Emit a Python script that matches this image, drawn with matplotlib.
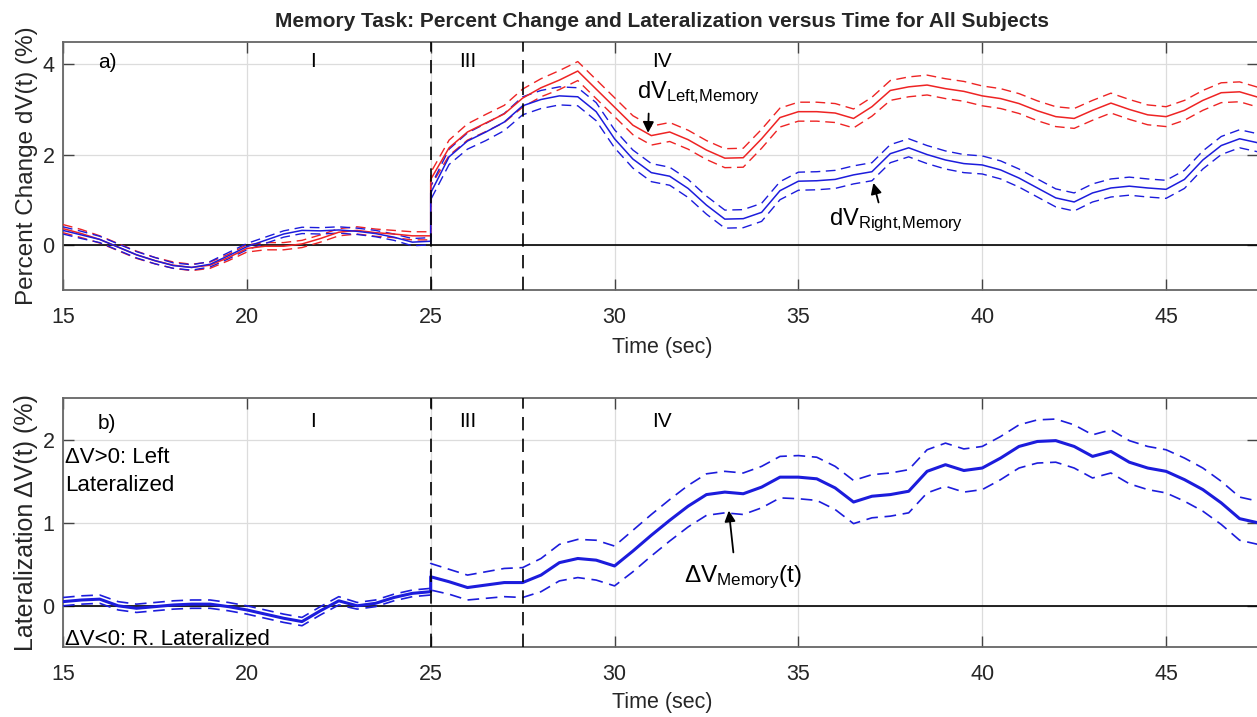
import numpy as np
import matplotlib
matplotlib.use('Agg')
import matplotlib.pyplot as plt

plt.rcParams['font.family'] = ['Liberation Sans', 'DejaVu Sans']
plt.rcParams['mathtext.fontset'] = 'custom'
plt.rcParams['mathtext.rm'] = 'Liberation Sans'
plt.rcParams['mathtext.it'] = 'Liberation Sans:italic'

# time axis (s); 25.0 appears twice because the traces jump at task onset
t_pre = [15, 15.5, 16, 16.5, 17, 17.5, 18, 18.5, 19, 19.5, 20,
         20.5, 21, 21.5, 22, 22.5, 23, 23.5, 24, 24.5, 25]
t_post = [25, 25.5, 26, 26.5, 27, 27.5, 28, 28.5, 29, 29.5, 30,
          30.5, 31, 31.5, 32, 32.5, 33, 33.5, 34, 34.5, 35,
          35.5, 36, 36.5, 37, 37.5, 38, 38.5, 39, 39.5, 40,
          40.5, 41, 41.5, 42, 42.5, 43, 43.5, 44, 44.5, 45,
          45.5, 46, 46.5, 47, 47.5]

# panel a) percent change, left hemisphere (red)
left_pre = [0.36, 0.25, 0.12, -0.05, -0.22, -0.35, -0.45, -0.50, -0.45, -0.28, -0.08,
            -0.03, -0.03, 0.02, 0.14, 0.28, 0.32, 0.27, 0.24, 0.20, 0.20]
left_post = [1.45, 2.15, 2.50, 2.70, 2.90, 3.25, 3.48, 3.65, 3.85, 3.45, 3.05,
             2.65, 2.42, 2.50, 2.33, 2.10, 1.92, 1.93, 2.35, 2.82, 2.95,
             2.95, 2.92, 2.80, 3.06, 3.42, 3.50, 3.54, 3.46, 3.40, 3.30,
             3.24, 3.13, 2.97, 2.84, 2.80, 2.98, 3.14, 3.00, 2.88, 2.84,
             2.98, 3.20, 3.37, 3.39, 3.27]
left_se_pre = [0.09, 0.09, 0.08, 0.08, 0.08, 0.07, 0.07, 0.07, 0.07, 0.07, 0.08,
               0.08, 0.08, 0.08, 0.08, 0.08, 0.08, 0.08, 0.08, 0.09, 0.09]
left_se_post = [0.15, 0.17, 0.18, 0.19, 0.19, 0.20, 0.20, 0.21, 0.21, 0.21, 0.21,
                0.21, 0.21, 0.21, 0.21, 0.21, 0.21, 0.21, 0.21, 0.21, 0.21,
                0.21, 0.21, 0.21, 0.21, 0.22, 0.22, 0.22, 0.22, 0.22, 0.22,
                0.22, 0.22, 0.22, 0.22, 0.22, 0.22, 0.22, 0.22, 0.22, 0.22,
                0.22, 0.22, 0.22, 0.22, 0.22]

# panel a) percent change, right hemisphere (blue)
right_pre = [0.32, 0.22, 0.12, -0.05, -0.22, -0.35, -0.46, -0.50, -0.43, -0.24, -0.04,
             0.10, 0.24, 0.32, 0.31, 0.33, 0.30, 0.25, 0.17, 0.06, 0.08]
right_post = [1.15, 1.95, 2.30, 2.50, 2.72, 3.08, 3.22, 3.30, 3.28, 2.95, 2.35,
              1.90, 1.60, 1.52, 1.25, 0.88, 0.57, 0.58, 0.72, 1.20, 1.41,
              1.42, 1.45, 1.55, 1.62, 2.02, 2.15, 2.00, 1.88, 1.80, 1.77,
              1.66, 1.48, 1.26, 1.04, 0.95, 1.15, 1.26, 1.30, 1.26, 1.23,
              1.45, 1.88, 2.20, 2.35, 2.26]
right_se_pre = [0.08, 0.08, 0.07, 0.07, 0.07, 0.07, 0.06, 0.06, 0.06, 0.07, 0.07,
                0.07, 0.07, 0.07, 0.07, 0.07, 0.07, 0.07, 0.07, 0.08, 0.08]
right_se_post = [0.15, 0.17, 0.18, 0.19, 0.19, 0.20, 0.20, 0.20, 0.20, 0.20, 0.20,
                 0.20, 0.20, 0.20, 0.20, 0.20, 0.20, 0.20, 0.20, 0.20, 0.20,
                 0.20, 0.20, 0.20, 0.20, 0.20, 0.20, 0.20, 0.20, 0.20, 0.20,
                 0.20, 0.20, 0.20, 0.20, 0.20, 0.20, 0.20, 0.20, 0.20, 0.20,
                 0.20, 0.20, 0.20, 0.20, 0.20]

# panel b) lateralization index
lat_pre = [0.05, 0.07, 0.08, 0.00, -0.03, -0.01, 0.01, 0.02, 0.02, -0.01, -0.05,
           -0.10, -0.15, -0.19, -0.06, 0.06, 0.00, 0.03, 0.10, 0.15, 0.17]
lat_post = [0.35, 0.29, 0.22, 0.25, 0.28, 0.28, 0.37, 0.52, 0.57, 0.55, 0.48,
            0.66, 0.85, 1.03, 1.20, 1.34, 1.37, 1.35, 1.43, 1.55, 1.55,
            1.53, 1.42, 1.25, 1.32, 1.34, 1.38, 1.62, 1.70, 1.63, 1.66,
            1.78, 1.92, 1.98, 1.99, 1.92, 1.80, 1.86, 1.73, 1.66, 1.62,
            1.52, 1.40, 1.24, 1.05, 1.00]
lat_se_pre = [0.05, 0.05, 0.05, 0.05, 0.05, 0.05, 0.05, 0.05, 0.05, 0.05, 0.05,
              0.05, 0.05, 0.05, 0.05, 0.05, 0.04, 0.04, 0.04, 0.04, 0.04]
lat_se_post = [0.16, 0.15, 0.15, 0.16, 0.17, 0.18, 0.20, 0.22, 0.23, 0.24, 0.24,
               0.25, 0.25, 0.25, 0.25, 0.25, 0.25, 0.25, 0.25, 0.25, 0.26,
               0.26, 0.26, 0.26, 0.26, 0.26, 0.26, 0.26, 0.26, 0.26, 0.26,
               0.26, 0.26, 0.26, 0.26, 0.26, 0.26, 0.26, 0.26, 0.26, 0.26,
               0.26, 0.26, 0.26, 0.26, 0.26]

phase_lines = [25, 27.5]
phase_names = ['I', 'III', 'IV']
phase_pos = [21.8, 26.0, 31.3]

RED = '#ee2424'
BLUE = '#1c1cdc'
DASH = (0, (7, 4))
INK = '#262626'


def trace(ax, mean_pre, mean_post, se_pre, se_post, color, lw, dlw):
    t = np.array(t_pre + t_post)
    m = np.array(mean_pre + mean_post)
    s = np.array(se_pre + se_post)
    ax.plot(t, m, color=color, lw=lw, zorder=4)
    ax.plot(t, m + s, color=color, lw=dlw, ls=DASH, zorder=3)
    ax.plot(t, m - s, color=color, lw=dlw, ls=DASH, zorder=3)


def style(ax, yticks, ylim):
    ax.set_xlim(15, 47.5)
    ax.set_ylim(*ylim)
    ax.set_xticks([15, 20, 25, 30, 35, 40, 45])
    ax.set_yticks(yticks)
    ax.grid(True, color='#dcdcdc', lw=0.9)
    ax.set_axisbelow(True)
    ax.tick_params(direction='in', length=8, width=1.0, color='#444444',
                   top=True, right=True, labelsize=15.5, labelcolor=INK)
    ax.tick_params(axis='x', pad=12)
    ax.tick_params(axis='y', pad=6)
    for sp in ax.spines.values():
        sp.set_color('#666666')
        sp.set_linewidth(1.3)
    ax.axhline(0, color='black', lw=1.2, zorder=2)
    for x in phase_lines:
        ax.axvline(x, color='black', lw=1.2, ls=(0, (8, 5)), zorder=5)
    ax.set_xlabel('Time (sec)', fontsize=15.5, color=INK)


fig = plt.figure(figsize=(12.57, 7.17), dpi=100)
ax1 = fig.add_axes([63 / 1257, 1 - 290 / 717, 1195 / 1257, 248.3 / 717])
ax2 = fig.add_axes([63 / 1257, 1 - 647.3 / 717, 1195 / 1257, 249 / 717])

# panel a)
trace(ax1, left_pre, left_post, left_se_pre, left_se_post, RED, 1.1, 1.0)
trace(ax1, right_pre, right_post, right_se_pre, right_se_post, BLUE, 1.1, 1.0)
style(ax1, [0, 2, 4], (-1, 4.5))
ax1.xaxis.set_label_coords(0.5017, -0.19)
ax1.set_ylabel('Percent Change dV(t) (%)', fontsize=17.5, color=INK)
ax1.yaxis.set_label_coords(-0.021, 0.5)
ax1.text(15.95, 4.04, 'a)', fontsize=15, va='center', ha='left')
for name, x in zip(phase_names, phase_pos):
    ax1.text(x, 4.07, name, fontsize=15, va='center', ha='center')
ax1.text(30.6, 3.26, r'dV$_{\mathrm{Left{,}Memory}}$', fontsize=17, va='baseline')
ax1.annotate('', xy=(30.91, 2.42), xytext=(30.93, 2.97),
             arrowprops=dict(arrowstyle='-|>', color='black', lw=1.3, mutation_scale=16))
ax1.text(35.82, 0.44, r'dV$_{\mathrm{Right{,}Memory}}$', fontsize=17, va='baseline')
ax1.annotate('', xy=(37.02, 1.43), xytext=(37.2, 0.88),
             arrowprops=dict(arrowstyle='-|>', color='black', lw=1.3, mutation_scale=16))

# panel b)
trace(ax2, lat_pre, lat_post, lat_se_pre, lat_se_post, BLUE, 2.2, 1.2)
style(ax2, [0, 1, 2], (-0.5, 2.5))
ax2.xaxis.set_label_coords(0.5017, -0.178)
ax2.set_ylabel('Lateralization \u0394V(t) (%)', fontsize=18, color=INK)
ax2.yaxis.set_label_coords(-0.021, 0.5)
ax2.text(15.95, 2.2, 'b)', fontsize=15, va='center', ha='left')
for name, x in zip(phase_names, phase_pos):
    ax2.text(x, 2.22, name, fontsize=15, va='center', ha='center')
ax2.text(15.05, 1.72, '\u0394V>0: Left', fontsize=16, va='baseline')
ax2.text(15.05, 1.38, 'Lateralized', fontsize=16, va='baseline')
ax2.text(15.05, -0.47, '\u0394V<0: R. Lateralized', fontsize=16, va='baseline')
ax2.text(31.9, 0.28, '\u0394V$_{\\mathrm{Memory}}$(t)', fontsize=17.5, va='baseline')
ax2.annotate('', xy=(33.1, 1.18), xytext=(33.24, 0.61),
             arrowprops=dict(arrowstyle='-|>', color='black', lw=1.3, mutation_scale=16))

fig.text(662 / 1257, 1 - 26.7 / 717,
         'Memory Task: Percent Change and Lateralization versus Time for All Subjects',
         ha='center', va='baseline', fontsize=15, fontweight='bold', color=INK)

fig.savefig('out.png', dpi=100)
